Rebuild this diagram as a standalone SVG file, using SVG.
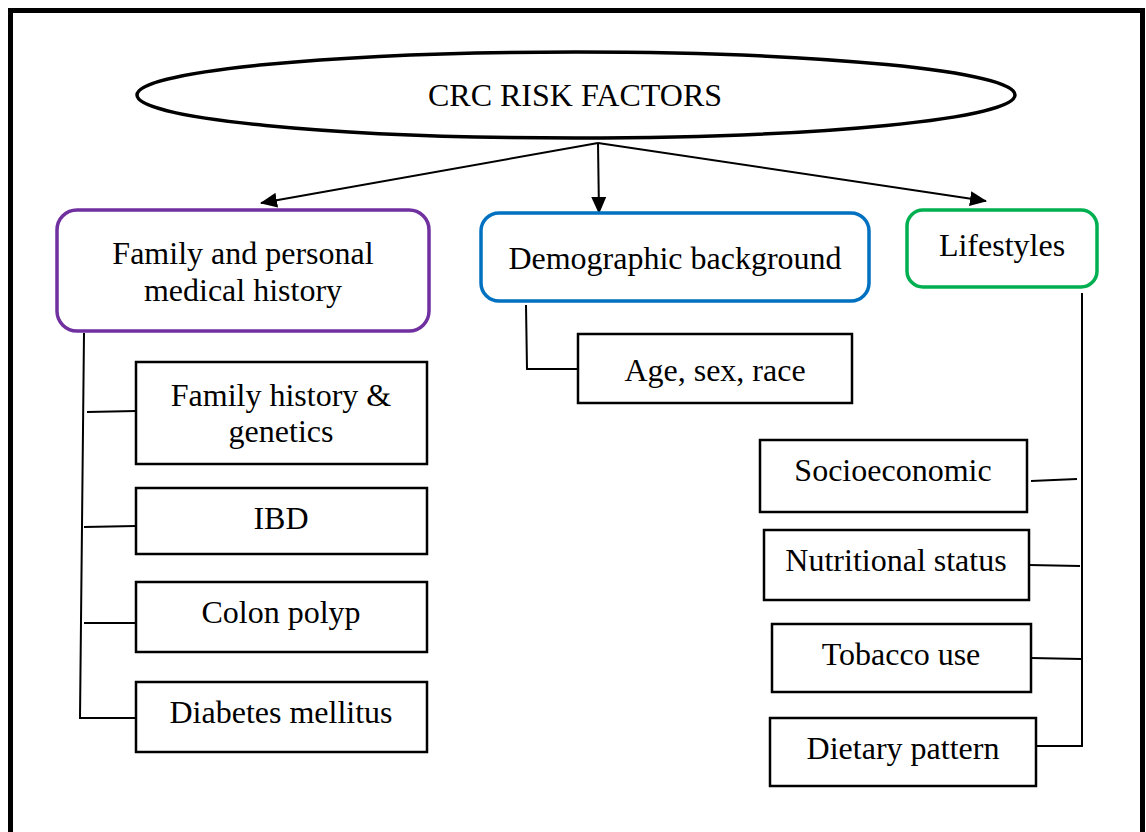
<svg xmlns="http://www.w3.org/2000/svg" width="1146" height="832" viewBox="0 0 1146 832">
<style>
text{font-family:"Liberation Serif","Times New Roman",serif;font-size:32px;fill:#000;text-anchor:middle}
.box{fill:#fff;stroke:#000;stroke-width:2.5}
.conn{fill:none;stroke:#000;stroke-width:2}
.arr{fill:none;stroke:#000;stroke-width:2;marker-end:url(#ah)}
</style>
<defs>
<marker id="ah" viewBox="0 0 17 15" refX="16" refY="7.5" markerWidth="17" markerHeight="15" markerUnits="userSpaceOnUse" orient="auto">
<path d="M0,0 L17,7.5 L0,15 Z" fill="#000"/>
</marker>
</defs>
<rect width="1146" height="832" fill="#fff"/>
<rect id="frame" x="10.5" y="10.5" width="1132" height="840" fill="none" stroke="#000" stroke-width="5"/>

<g id="connectors">
<line class="arr" x1="598" y1="143" x2="261" y2="203"/>
<line class="arr" x1="598" y1="143" x2="599" y2="213"/>
<line class="arr" x1="598" y1="143" x2="986" y2="201"/>
<polyline class="conn" points="84,333 80,718 136,718"/>
<line class="conn" x1="87" y1="412" x2="136" y2="411"/>
<line class="conn" x1="84" y1="527" x2="136" y2="526"/>
<line class="conn" x1="84" y1="623" x2="136" y2="623"/>
<polyline class="conn" points="526,305 527,369 578,369"/>
<polyline class="conn" points="1082,293 1082,746 1036,746"/>
<line class="conn" x1="1031" y1="481" x2="1077" y2="479"/>
<line class="conn" x1="1029" y1="565" x2="1080" y2="566"/>
<line class="conn" x1="1031" y1="658" x2="1082" y2="659"/>
</g>

<g id="root">
<ellipse cx="576" cy="95" rx="439" ry="43" fill="#fff" stroke="#000" stroke-width="3.5"/>
<text x="575" y="106">CRC RISK FACTORS</text>
</g>

<g id="family-personal">
<rect x="57" y="210" width="372" height="121" rx="20" fill="#fff" stroke="#7030A0" stroke-width="3.5"/>
<text x="243" y="264">Family and personal</text>
<text x="243" y="301">medical history</text>
</g>

<g id="demographic">
<rect x="481" y="213" width="388" height="88" rx="18" fill="#fff" stroke="#0070C0" stroke-width="3.5"/>
<text x="675" y="269">Demographic background</text>
</g>

<g id="lifestyles">
<rect x="907" y="210" width="190" height="77" rx="16" fill="#fff" stroke="#00B050" stroke-width="3.5"/>
<text x="1002" y="256">Lifestyles</text>
</g>

<g id="family-history">
<rect class="box" x="136" y="362" width="291" height="102"/>
<text x="281" y="406">Family history &amp;</text>
<text x="281" y="442">genetics</text>
</g>
<g id="ibd">
<rect class="box" x="136" y="488" width="291" height="66"/>
<text x="281" y="529">IBD</text>
</g>
<g id="colon-polyp">
<rect class="box" x="136" y="582" width="291" height="70"/>
<text x="281" y="623">Colon polyp</text>
</g>
<g id="diabetes">
<rect class="box" x="136" y="682" width="291" height="70"/>
<text x="281" y="723">Diabetes mellitus</text>
</g>

<g id="age-sex-race">
<rect class="box" x="578" y="334" width="274" height="69"/>
<text x="715" y="381">Age, sex, race</text>
</g>

<g id="socioeconomic">
<rect class="box" x="760" y="440" width="267" height="72"/>
<text x="893" y="481">Socioeconomic</text>
</g>
<g id="nutritional">
<rect class="box" x="764" y="530" width="265" height="70"/>
<text x="896" y="571">Nutritional status</text>
</g>
<g id="tobacco">
<rect class="box" x="772" y="624" width="259" height="68"/>
<text x="901" y="665">Tobacco use</text>
</g>
<g id="dietary">
<rect class="box" x="770" y="718" width="266" height="68"/>
<text x="903" y="759">Dietary pattern</text>
</g>
</svg>
